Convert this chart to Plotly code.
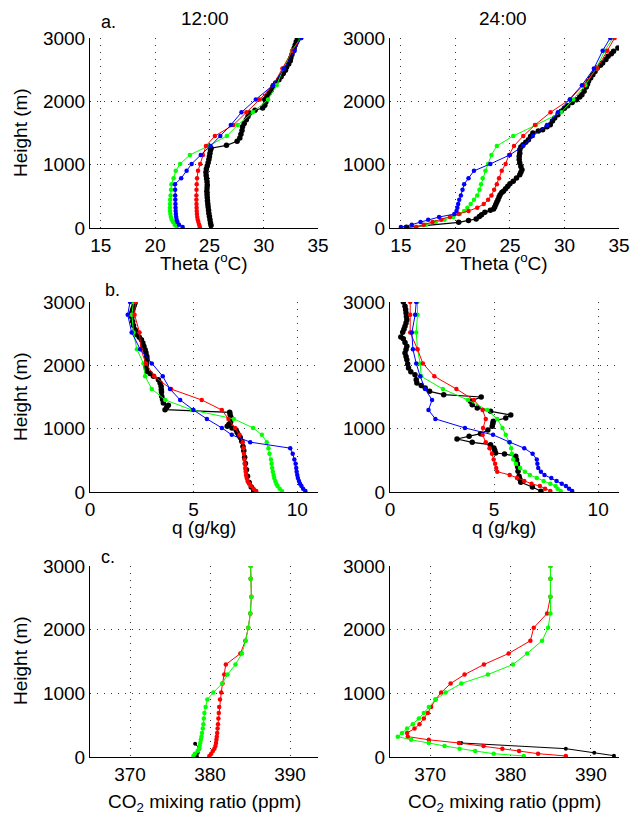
import plotly.graph_objects as go

# ---------------- data ----------------
# model levels (m) shared by the red / green / blue runs
LEVELS = [16, 52, 94, 130, 173, 220, 270, 320, 378, 446, 514, 603, 692, 787, 902, 1012,
          1154, 1295, 1453, 1626, 1826, 2030, 2255, 2518, 2800, 3000]

# ---- a. potential temperature (deg C), 12:00
theta12_red = [24.12, 24.05, 23.98, 23.92, 23.88, 23.85, 23.83, 23.82, 23.81, 23.80, 23.80, 23.81, 23.83,
               23.86, 23.95, 24.15, 24.4, 24.68, 25.5, 27.2, 28.4, 29.64, 30.86, 31.72, 32.64, 33.46]
theta12_green = [21.98, 21.8, 21.65, 21.52, 21.45, 21.40, 21.37, 21.36, 21.36, 21.38, 21.42, 21.46, 21.5,
                 21.7, 21.9, 22.3, 23.2, 24.9, 26.6, 27.6, 29.0, 30.4, 31.2, 31.8, 32.6, 33.4]
theta12_blue = [22.53, 22.2, 22.05, 21.98, 21.94, 21.91, 21.89, 21.88, 21.87, 21.86, 21.85, 21.84, 21.83,
                22.4, 22.9, 23.36, 24.2, 25.1, 26.0, 26.97, 27.95, 29.27, 30.86, 31.87, 32.85, 33.46]
h_obs_theta12 = [40, 80, 130, 180, 230, 280, 330, 380, 430, 480, 530, 580, 630, 680, 730, 780, 830, 880,
                 930, 980, 1030, 1080, 1130, 1180, 1230, 1260, 1305, 1368, 1420, 1480, 1540, 1600, 1650,
                 1710, 1760, 1815, 1860, 1895, 1940, 1990, 2030, 2080, 2130, 2180, 2237, 2290, 2340, 2390,
                 2440, 2490, 2540, 2590, 2640, 2690, 2740, 2790, 2840, 2890, 2940, 2990]
theta12_black = [25.15, 25.10, 25.05, 25.00, 24.95, 24.92, 24.88, 24.85, 24.82, 24.80, 24.78, 24.76, 24.78,
                 24.80, 24.78, 24.74, 24.70, 24.68, 24.72, 24.80, 24.88, 24.95, 25.00, 25.05, 25.10, 25.15,
                 26.57, 27.55, 27.8, 27.9, 28.0, 28.05, 28.2, 28.4, 28.55, 28.7, 29.2, 29.9, 30.1, 30.2,
                 30.1, 30.3, 30.5, 30.7, 30.86, 31.1, 31.4, 31.6, 31.8, 32.0, 32.1, 32.3, 32.45, 32.5,
                 32.6, 32.7, 32.8, 32.9, 33.0, 33.1]

# ---- a. potential temperature (deg C), 24:00
theta24_red = [16.4, 17.1, 17.9, 18.7, 19.5, 20.3, 21.2, 22.0, 22.6, 23.0, 23.3, 23.55, 23.8, 24.0, 24.25,
               24.6, 24.91, 25.37, 26.22, 27.29, 28.72, 30.49, 31.71, 32.99, 33.93, 34.6]
theta24_green = [16.4, 17.3, 18.2, 19.0, 19.8, 20.4, 20.8, 21.1, 21.4, 21.7, 22.0, 22.2, 22.35, 22.5, 22.75,
                 23.0, 23.3, 23.8, 25.3, 27.4, 29.7, 30.8, 31.9, 32.9, 33.7, 34.45]
theta24_blue = [15.0, 16.0, 16.8, 17.5, 18.5, 19.9, 20.1, 20.18, 20.25, 20.35, 20.5, 20.65, 20.8, 21.2, 21.7,
                23.2, 25.0, 26.2, 27.1, 28.4, 29.4, 30.5, 31.6, 32.7, 33.5, 34.2]
h_obs_theta24 = [10, 89, 120, 142, 180, 210, 247, 280, 300, 330, 370, 410, 447, 490, 526, 560, 579, 620,
                 658, 700, 737, 789, 842, 880, 921, 970, 1026, 1080, 1131, 1180, 1237, 1280, 1316, 1355,
                 1395, 1450, 1500, 1530, 1553, 1600, 1632, 1690, 1737, 1790, 1842, 1890, 1932, 1980, 2026,
                 2070, 2105, 2160, 2226, 2270, 2316, 2370, 2421, 2470, 2526, 2570, 2605, 2660, 2710, 2750,
                 2790, 2842]
theta24_black = [15.5, 20.3, 21.2, 21.9, 22.2, 22.4, 22.7, 23.2, 23.5, 23.6, 23.7, 23.8, 23.9, 24.0, 24.1,
                 24.25, 24.4, 24.6, 24.8, 25.0, 25.3, 25.6, 25.9, 26.0, 26.1, 26.0, 25.9, 25.85, 25.85,
                 25.9, 25.9, 26.0, 26.2, 26.45, 26.7, 26.9, 27.1, 27.6, 28.0, 28.4, 28.7, 28.9, 29.1, 29.4,
                 29.7, 30.0, 30.3, 30.7, 31.1, 31.4, 31.6, 31.8, 32.0, 32.1, 32.2, 32.4, 32.6, 32.8, 33.0,
                 33.3, 33.5, 33.8, 34.0, 34.3, 34.5, 34.9]

# ---- b. specific humidity (g/kg), 12:00
q12_red = [8.02, 7.89, 7.76, 7.68, 7.6, 7.56, 7.53, 7.51, 7.49, 7.47, 7.45, 7.43, 7.4, 7.37, 7.21, 7.0,
           6.68, 6.36, 5.39, 3.91, 3.1, 2.7, 2.45, 2.39, 2.15, 2.2]
q12_green = [9.26, 9.15, 9.05, 8.99, 8.94, 8.89, 8.86, 8.82, 8.79, 8.76, 8.73, 8.66, 8.61, 8.53, 8.29, 7.87,
             6.94, 4.92, 3.63, 2.98, 2.66, 2.58, 2.26, 2.10, 2.02, 2.1]
q12_blue = [10.39, 10.28, 10.2, 10.13, 10.08, 10.03, 10.0, 9.97, 9.95, 9.92, 9.86, 9.78, 9.66, 7.73, 6.84,
            6.36, 5.64, 4.99, 4.35, 3.86, 3.51, 2.98, 2.42, 2.01, 1.82, 1.93]
h_obs_q12 = [20, 80, 150, 250, 350, 450, 550, 650, 720, 800, 860, 900, 940, 980, 1010, 1040, 1070, 1100,
             1140, 1180, 1220, 1258, 1300, 1340, 1368, 1405, 1460, 1510, 1580, 1620, 1668, 1720, 1774,
             1826, 1870, 1905, 1945, 1984, 2020, 2060, 2100, 2142, 2200, 2247, 2300, 2352, 2405, 2445,
             2484, 2525, 2563, 2630, 2694, 2760, 2826, 2870, 2905, 2945, 2984]
q12_black = [7.9, 7.78, 7.68, 7.6, 7.55, 7.5, 7.46, 7.42, 7.38, 7.32, 7.25, 7.17, 7.1, 7.05, 6.85, 6.62,
             6.7, 6.78, 6.8, 6.8, 6.76, 6.74, 3.62, 3.7, 3.78, 3.54, 3.5, 3.46, 3.45, 3.44, 3.43, 3.38,
             3.3, 3.06, 2.9, 2.74, 2.72, 2.7, 2.72, 2.74, 2.75, 2.74, 2.7, 2.66, 2.6, 2.55, 2.48, 2.38,
             2.26, 2.22, 2.18, 2.1, 2.06, 2.02, 2.01, 2.05, 2.09, 2.13, 2.17]

# ---- b. specific humidity (g/kg), 24:00
q24_red = [7.7, 7.45, 7.2, 6.8, 6.45, 6.1, 5.75, 5.15, 5.1, 5.05, 4.98, 4.9, 4.78, 4.6, 4.45, 4.47, 4.6,
           4.45, 4.03, 3.19, 2.13, 1.58, 1.32, 0.97, 0.97, 0.97]
q24_green = [8.2, 8.05, 7.95, 7.7, 7.38, 7.05, 6.72, 6.48, 6.25, 6.05, 5.92, 5.86, 5.82, 5.72, 5.56, 5.4,
             5.15, 4.67, 3.74, 2.54, 1.5, 1.45, 1.32, 1.26, 1.32, 1.32]
q24_blue = [8.75, 8.6, 8.45, 8.25, 8.0, 7.75, 7.42, 7.25, 7.12, 7.08, 7.05, 6.85, 6.45, 5.75, 4.95, 3.6,
            2.18, 1.85, 2.02, 1.69, 1.45, 1.26, 1.10, 1.05, 1.21, 1.26]
h_obs_q24 = [11, 79, 153, 200, 247, 326, 400, 447, 510, 563, 600, 616, 660, 695, 747, 784, 837, 880, 921,
             980, 1037, 1080, 1116, 1168, 1216, 1274, 1326, 1379, 1431, 1500, 1537, 1589, 1642, 1680,
             1721, 1774, 1850, 1900, 1958, 2020, 2089, 2140, 2195, 2250, 2300, 2360, 2421, 2447, 2521,
             2570, 2616, 2670, 2721, 2770, 2826, 2880, 2931, 3000]
q24_black = [7.25, 6.84, 6.28, 6.24, 6.2, 6.15, 6.13, 6.12, 6.08, 6.04, 5.5, 5.07, 5.03, 4.99, 4.83, 3.95,
             3.22, 3.8, 4.35, 4.7, 4.91, 4.94, 4.96, 5.56, 5.8, 4.83, 4.19, 3.95, 3.86, 4.38, 2.58, 1.9,
             1.69, 1.5, 1.29, 1.26, 1.2, 1.0, 0.89, 0.85, 0.81, 0.77, 0.72, 0.77, 0.81, 0.72, 0.64, 0.52,
             0.61, 0.67, 0.72, 0.77, 0.81, 0.79, 0.77, 0.75, 0.72, 0.64]

# ---- c. CO2 mixing ratio (ppm), 12:00
co2_12_red = [379.92, 380.15, 380.35, 380.55, 380.68, 380.75, 380.8, 380.85, 380.9, 380.95, 381.0, 381.05,
              381.1, 381.15, 381.25, 381.4, 381.57, 381.78, 381.98, 383.8, 384.42, 384.79, 385.04, 385.17,
              385.08, 385.08]
co2_12_green = [377.93, 378.1, 378.45, 378.62, 378.7, 378.78, 378.85, 378.93, 379.0, 379.1, 379.17, 379.23,
                379.3, 379.45, 379.67, 380.41, 381.53, 382.19, 383.18, 384.0, 384.46, 384.79, 385.04,
                385.17, 385.08, 385.08]
h_obs_co2_12 = [16, 68, 131, 210]
co2_12_black = [378.35, 378.47, 378.68, 378.14]

# ---- c. CO2 mixing ratio (ppm), 24:00
co2_24_red = [386.88, 383.43, 381.06, 378.98, 376.65, 373.58, 369.83, 367.21, 367.13, 368.05, 368.67,
              369.21, 369.71, 370.12, 370.67, 371.37, 372.54, 374.28, 376.69, 379.77, 382.47, 382.89,
              384.55, 384.97, 384.97, 384.97]
co2_24_green = [381.64, 377.9, 375.61, 373.66, 371.79, 369.83, 367.63, 365.97, 366.5, 367.13, 367.84,
                368.59, 369.21, 369.83, 370.67, 371.91, 373.87, 377.19, 380.31, 382.06, 383.93, 384.68,
                384.97, 384.97, 384.97, 384.97]
h_obs_co2_24 = [21, 68, 131, 220]
co2_24_black = [392.87, 390.42, 386.88, 373.87]

# ---------------- figure ----------------
W, H = 630, 814
FONT = "Liberation Sans, Arial, Helvetica, sans-serif"
FS = 19

COLS = [(90, 318), (390, 619)]
ROWS = [(38, 228), (302, 492), (566, 757)]


def xd(px):
    return px / W


def yd(py):
    return 1 - py / H


fig = go.Figure()

panels = [
    (0, 0, [(theta12_green, "#00ff00"), (theta12_red, "#ff0000"), (theta12_blue, "#0000ff")],
     (theta12_black, h_obs_theta12), [14, 35], [15, 20, 25, 30, 35]),
    (0, 1, [(theta24_green, "#00ff00"), (theta24_red, "#ff0000"), (theta24_blue, "#0000ff")],
     (theta24_black, h_obs_theta24), [14, 35], [15, 20, 25, 30, 35]),
    (1, 0, [(q12_green, "#00ff00"), (q12_red, "#ff0000"), (q12_blue, "#0000ff")],
     (q12_black, h_obs_q12), [0, 11], [0, 5, 10]),
    (1, 1, [(q24_green, "#00ff00"), (q24_red, "#ff0000"), (q24_blue, "#0000ff")],
     (q24_black, h_obs_q24), [0, 11], [0, 5, 10]),
    (2, 0, [(co2_12_red, "#ff0000"), (co2_12_green, "#00ff00")],
     (co2_12_black, h_obs_co2_12), [365, 393.5], [370, 380, 390]),
    (2, 1, [(co2_24_red, "#ff0000"), (co2_24_green, "#00ff00")],
     (co2_24_black, h_obs_co2_24), [365, 393.5], [370, 380, 390]),
]

for i, (r, c, models, obs, xr, xt) in enumerate(panels):
    n = i + 1
    xa = "x" if n == 1 else f"x{n}"
    ya = "y" if n == 1 else f"y{n}"
    small_obs = r == 2
    ox, oh = obs
    fig.add_trace(go.Scatter(x=ox, y=oh, xaxis=xa, yaxis=ya, mode="lines+markers",
                             line=dict(color="black", width=1.2 if not small_obs else 1),
                             marker=dict(color="black", size=5.5 if not small_obs else 4),
                             showlegend=False))
    for vals, col in models:
        fig.add_trace(go.Scatter(x=vals, y=LEVELS, xaxis=xa, yaxis=ya, mode="lines+markers",
                                 line=dict(color=col, width=1),
                                 marker=dict(color=col, size=4.5),
                                 showlegend=False))
    x0, x1 = COLS[c]
    y0, y1 = ROWS[r]
    axcommon = dict(showline=True, linecolor="black", linewidth=1, mirror=False, automargin=False,
                    showgrid=True, gridcolor="#333333", gridwidth=1, griddash="1px,6px",
                    zeroline=False, ticks="", tickfont=dict(family=FONT, size=FS, color="black"))
    fig.layout[("xaxis" if n == 1 else f"xaxis{n}")] = dict(
        domain=[xd(x0), xd(x1)], anchor=ya, range=xr, tickvals=xt, **axcommon)
    fig.layout[("yaxis" if n == 1 else f"yaxis{n}")] = dict(
        domain=[yd(y1), yd(y0)], anchor=xa, range=[0, 3000], tickvals=[0, 1000, 2000, 3000],
        **axcommon)

ann = []


def add_text(text, px, py, size=FS, angle=0):
    ann.append(dict(text=text, x=xd(px), y=yd(py), xref="paper", yref="paper",
                    showarrow=False, xanchor="center", yanchor="middle", textangle=angle,
                    font=dict(family=FONT, size=size, color="black")))


add_text("12:00", 205, 18)
add_text("24:00", 503, 18)
add_text("a.", 108, 22, 18)
add_text("b.", 112, 290, 18)
add_text("c.", 108, 557, 18)
for cy in [133, 397, 661]:
    add_text("Height (m)", 20, cy, angle=-90)
for cx in [204, 504]:
    add_text("Theta (<sup>o</sup>C)", cx, 262)
    add_text("q (g/kg)", cx, 527)
    add_text("CO<sub>2</sub> mixing ratio (ppm)", cx, 803)

fig.update_layout(template="none", width=W, height=H, margin=dict(l=0, r=0, t=0, b=0, pad=0),
                  paper_bgcolor="white", plot_bgcolor="white", annotations=ann,
                  font=dict(family=FONT, size=FS, color="black"))

fig.write_html("out.html", config={"displayModeBar": False, "staticPlot": True},
               post_script="document.body.style.margin='0';document.body.style.overflow='hidden';")
